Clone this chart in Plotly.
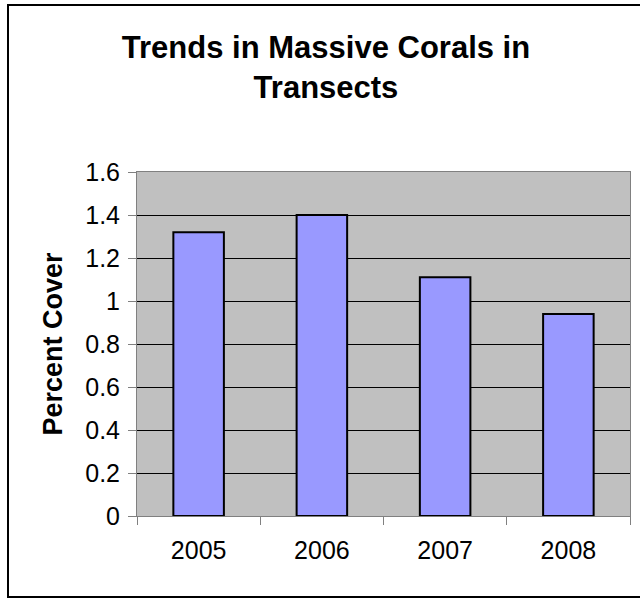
import plotly.graph_objects as go

# Survey data: mean percent cover of massive corals per year
years = ["2005", "2006", "2007", "2008"]
percent_cover = [1.32, 1.40, 1.11, 0.94]
y_ticks = [0, 0.2, 0.4, 0.6, 0.8, 1.0, 1.2, 1.4, 1.6]
y_tick_text = ["0", "0.2", "0.4", "0.6", "0.8", "1", "1.2", "1.4", "1.6"]

W, H = 640, 598
M_L, M_R, M_T, M_B = 137, 10, 172, 82
plot_w = W - M_L - M_R
plot_h = H - M_T - M_B


def px_to_paper_x(px):
    return (px - M_L) / plot_w


def px_to_paper_y(py):
    return (H - M_B - py) / plot_h


fig = go.Figure(
    go.Bar(
        x=years,
        y=percent_cover,
        marker=dict(color="#9999FF", line=dict(color="#000000", width=2)),
        width=0.41,
    )
)

font_family = "Liberation Sans, Arial, sans-serif"

fig.update_layout(
    width=W,
    height=H,
    margin=dict(l=M_L, r=M_R, t=M_T, b=M_B),
    paper_bgcolor="#FFFFFF",
    plot_bgcolor="#C0C0C0",
    showlegend=False,
    font=dict(family=font_family, color="#000000"),
    title=dict(
        text="<b>Trends in Massive Corals in<br>Transects</b>",
        font=dict(size=31, family=font_family, color="#000000"),
        x=px_to_paper_x(326),
        xref="paper",
        xanchor="center",
        y=1 - 58 / H,
        yanchor="top",
    ),
    xaxis=dict(
        type="category",
        tickson="boundaries",
        ticks="outside",
        ticklen=8,
        tickcolor="#808080",
        tickfont=dict(size=25),
        showline=True,
        linecolor="#808080",
        linewidth=1,
        mirror=True,
        showgrid=False,
        ticklabelstandoff=12,
    ),
    yaxis=dict(
        range=[0, 1.6],
        tickvals=y_ticks,
        ticktext=y_tick_text,
        ticks="outside",
        ticklen=8,
        tickcolor="#808080",
        tickfont=dict(size=25),
        showline=True,
        linecolor="#808080",
        linewidth=1,
        mirror=True,
        showgrid=True,
        gridcolor="#000000",
        gridwidth=1,
        zeroline=False,
        ticklabelstandoff=3,
        title=dict(
            text="<b>Percent Cover</b>",
            font=dict(size=27, family=font_family),
            standoff=14,
        ),
    ),
)

# Chart-area frame around the whole figure
fig.add_shape(
    type="rect",
    xref="paper",
    yref="paper",
    x0=px_to_paper_x(8),
    x1=px_to_paper_x(642),
    y0=px_to_paper_y(597),
    y1=px_to_paper_y(5),
    line=dict(color="#000000", width=2),
    fillcolor="rgba(0,0,0,0)",
    layer="below",
)

fig.write_html("out.html")
